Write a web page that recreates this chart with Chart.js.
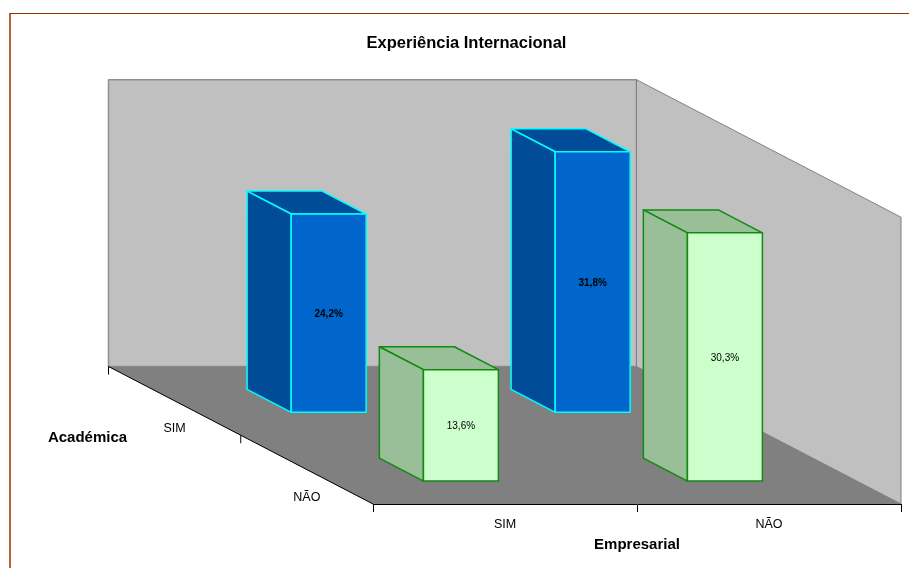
<!DOCTYPE html>
<html>
<head>
<meta charset="utf-8">
<title>Experiência Internacional</title>
<script src="https://cdn.jsdelivr.net/npm/chart.js@4"></script>
<style>
  html, body { margin: 0; background: #fff; overflow: hidden; }
  #frame {
    position: absolute; left: 9px; top: 13px;
    border-left: 2px solid #b8623a; border-top: 1px solid #993300;
  }
  canvas { display: block; }
</style>
</head>
<body>
<div id="frame"><canvas id="myChart" width="911" height="554"></canvas></div>
<script>
// Empresarial along the front, Académica going back into the picture
var empresarial = ["SIM", "NÃO"];
var academica = ["NÃO", "SIM"];
var academicaSim = [24.2, 31.8];
var academicaNao = [13.6, 30.3];

// how far the back wall sits from the front plane, in pixels
var depthX = -264.5;
var depthY = -137.5;
// bar depth as a share of the floor depth
var barDepth = 1 / 6;

function fmt(v) {
  return v.toFixed(1).replace(".", ",") + "%";
}

function poly(ctx, pts, fill, stroke, lw) {
  ctx.beginPath();
  ctx.moveTo(pts[0][0], pts[0][1]);
  for (var i = 1; i < pts.length; i++) ctx.lineTo(pts[i][0], pts[i][1]);
  ctx.closePath();
  if (fill) { ctx.fillStyle = fill; ctx.fill(); }
  if (stroke) { ctx.strokeStyle = stroke; ctx.lineWidth = lw || 1; ctx.lineJoin = "round"; ctx.stroke(); }
}

var box3d = {
  id: "box3d",
  // walls and floor go under the axes
  beforeDraw: function (chart) {
    var ctx = chart.ctx, a = chart.chartArea;
    var l = a.left, r = a.right, t = a.top, b = a.bottom;
    var dx = depthX, dy = depthY;
    ctx.save();
    poly(ctx, [[l + dx, b + dy], [r + dx, b + dy], [r, b], [l, b]], "#808080");
    poly(ctx, [[l + dx, t + dy], [r + dx, t + dy], [r + dx, b + dy], [l + dx, b + dy]], "#c0c0c0", "#909090", 1.5);
    poly(ctx, [[r + dx, t + dy], [r, t], [r, b], [r + dx, b + dy]], "#c0c0c0", "#808080", 1);
    poly(ctx, [[l + dx, b + dy], [r + dx, b + dy], [r, b], [l, b]], "#808080");

    // depth axis with its ticks and labels
    ctx.strokeStyle = "#000";
    ctx.lineWidth = 1;
    ctx.beginPath();
    ctx.moveTo(l + dx, b + dy);
    ctx.lineTo(l, b);
    for (var i = 0; i < academica.length; i++) {
      var f = (i + 1) / academica.length;
      ctx.moveTo(l + dx * f, b + dy * f);
      ctx.lineTo(l + dx * f, b + dy * f + 8);
    }
    ctx.stroke();

    ctx.fillStyle = "#000";
    ctx.textAlign = "center";
    ctx.textBaseline = "middle";
    ctx.font = "12.5px 'Liberation Sans'";
    academica.forEach(function (name, i) {
      var f = (i + 0.5) / academica.length;
      ctx.fillText(name, l + dx * f, b + dy * f + 28);
    });
    ctx.font = "bold 15px 'Liberation Sans'";
    ctx.fillText("Académica", l + dx - 21, b + dy + 71);
    ctx.restore();
  },
  // each bar element becomes a box, pushed back to its row
  beforeDatasetDraw: function (chart, args) {
    var ctx = chart.ctx;
    var ds = chart.data.datasets[args.index];
    var mid = (ds.row + 0.5) / academica.length;
    var front = mid - barDepth / 2;
    var fx = depthX * front, fy = depthY * front;
    var sx = depthX * barDepth, sy = depthY * barDepth;
    ctx.save();
    args.meta.data.forEach(function (bar, i) {
      var x0 = bar.x - bar.width / 2 + fx, x1 = bar.x + bar.width / 2 + fx;
      var top = bar.y + fy, base = bar.base + fy;
      poly(ctx, [[x0, top], [x0 + sx, top + sy], [x1 + sx, top + sy], [x1, top]], ds.shadeColor, ds.borderColor, 1.5);
      poly(ctx, [[x0, top], [x0 + sx, top + sy], [x0 + sx, base + sy], [x0, base]], ds.shadeColor, ds.borderColor, 1.5);
      poly(ctx, [[x0, top], [x1, top], [x1, base], [x0, base]], ds.backgroundColor, ds.borderColor, 1.5);
      ctx.fillStyle = "#000";
      ctx.textAlign = "center";
      ctx.textBaseline = "middle";
      ctx.font = ds.labelFont;
      ctx.fillText(fmt(ds.data[i]), (x0 + x1) / 2, (top + base) / 2 + 1);
    });
    ctx.restore();
    return false;
  }
};

var ctx = document.getElementById("myChart").getContext("2d");
var myChart = new Chart(ctx, {
  type: "bar",
  plugins: [box3d],
  data: {
    labels: empresarial,
    datasets: [{
      label: "SIM",
      data: academicaSim,
      row: 1,
      backgroundColor: "#0066cc",
      shadeColor: "#004c99",
      borderColor: "#00ffff",
      labelFont: "bold 10px 'Liberation Sans'"
    }, {
      label: "NÃO",
      data: academicaNao,
      row: 0,
      backgroundColor: "#ccffcc",
      shadeColor: "#99bf99",
      borderColor: "#108a10",
      labelFont: "10px 'Liberation Sans'"
    }]
  },
  options: {
    responsive: false,
    animation: false,
    grouped: false,
    barPercentage: 0.284,
    categoryPercentage: 1,
    plugins: {
      legend: { display: false },
      tooltip: { enabled: false },
      title: {
        display: true,
        text: "Experiência Internacional",
        color: "#000",
        font: { family: "'Liberation Sans'", size: 16.5, weight: "bold" },
        padding: { top: 20, bottom: 163.4 }
      }
    },
    scales: {
      x: {
        grid: { offset: true, drawOnChartArea: false, tickLength: 8, color: "#000" },
        border: { color: "#000" },
        ticks: { color: "#000", font: { family: "'Liberation Sans'", size: 12.5 }, padding: 5, maxRotation: 0 },
        title: {
          display: true,
          text: "Empresarial",
          color: "#000",
          font: { family: "'Liberation Sans'", size: 15, weight: "bold" },
          padding: { top: 0, bottom: 14 }
        },
        afterFit: function (s) { s.height = 64; }
      },
      y: {
        min: 0,
        max: 35,
        grid: { display: false },
        border: { display: false },
        ticks: { display: false },
        afterFit: function (s) { s.width = 362; }
      },
      // empty axis, only keeps the right margin clear
      spare: {
        position: "right",
        grid: { display: false },
        border: { display: false },
        ticks: { display: false },
        afterFit: function (s) { s.width = 21; }
      }
    }
  }
});
</script>
</body>
</html>
